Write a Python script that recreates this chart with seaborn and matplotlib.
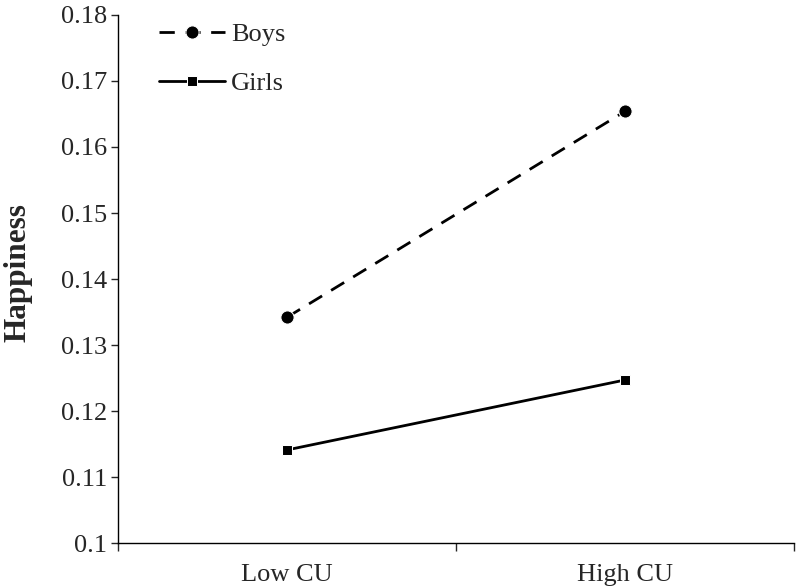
import pandas as pd
import matplotlib.pyplot as plt
import seaborn as sns
from matplotlib.ticker import FixedLocator

# Data
conditions = ["Low CU", "High CU"]
boys = [0.1342, 0.1654]
girls = [0.1141, 0.1247]

df = pd.DataFrame({
    "condition": conditions * 2,
    "happiness": boys + girls,
    "group": ["Boys"] * 2 + ["Girls"] * 2,
})

sns.set_theme(style="ticks")
plt.rcParams["font.family"] = ["Liberation Serif", "DejaVu Serif"]

fig = plt.figure(figsize=(7.96, 5.88), dpi=100)
ax = fig.add_axes([0.1482, 0.0765, 0.8493, 0.898])

sns.lineplot(data=df[df.group == "Boys"], x="condition", y="happiness",
             color="black", lw=2.0, linestyle=(0, (5.5, 3.8)),
             marker="o", markersize=9.5, label="Boys", ax=ax)
sns.lineplot(data=df[df.group == "Girls"], x="condition", y="happiness",
             color="black", lw=2.0, linestyle="-",
             marker="s", markersize=7.5, label="Girls", ax=ax)

ax.set_xlim(-0.5, 1.5)
ax.set_ylim(0.1, 0.18)
ax.set_yticks([0.1, 0.11, 0.12, 0.13, 0.14, 0.15, 0.16, 0.17, 0.18])
ax.set_yticklabels(["0.1", "0.11", "0.12", "0.13", "0.14", "0.15", "0.16", "0.17", "0.18"])
ax.xaxis.set_minor_locator(FixedLocator([-0.5, 0.5, 1.5]))
ax.tick_params(axis="x", which="major", length=0, pad=15, labelsize=19)
ax.tick_params(axis="x", which="minor", length=6, width=1, direction="out")
ax.tick_params(axis="y", length=5, width=1, direction="out", pad=3, labelsize=19)

for s in ["top", "right"]:
    ax.spines[s].set_visible(False)
for s in ["left", "bottom"]:
    ax.spines[s].set_linewidth(1)
    ax.spines[s].set_color("black")

ax.set_xlabel("")
ax.set_ylabel("Happiness", fontsize=22.5, fontweight="bold")
ax.yaxis.set_label_coords(-0.126, 0.513)

ax.legend(loc="upper left", bbox_to_anchor=(0.06, 0.985), frameon=False,
          fontsize=19, handlelength=2.5, handletextpad=0.25,
          labelspacing=0.95, borderpad=0, borderaxespad=0)

fig.savefig("out.png", dpi=100)
